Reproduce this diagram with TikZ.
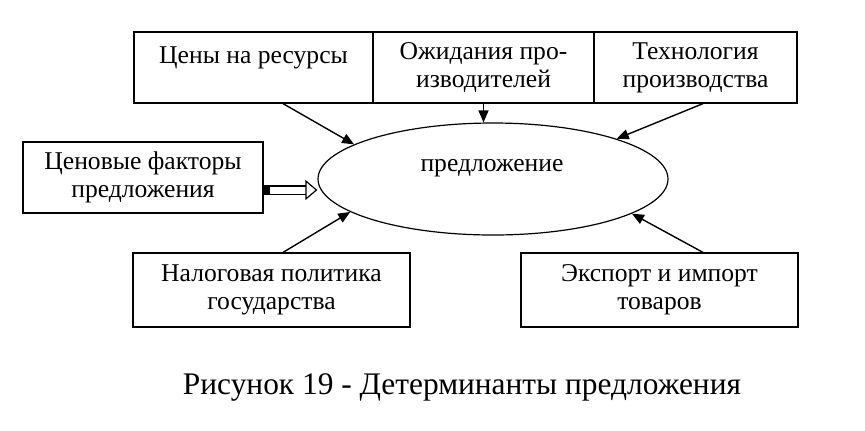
\documentclass[tikz,border=0pt]{standalone}
\usepackage{fontspec}
\setmainfont{Liberation Serif}
\usetikzlibrary{positioning}
\usetikzlibrary{arrows.meta}
\usetikzlibrary{shapes.geometric}

\begin{document}
\begin{tikzpicture}[x = 0.5pt, y = -0.5pt]
\tikzstyle{boxStyle} = [draw, line width = 0.6pt, align = center, inner sep = 2pt, font = \fontsize{12.8}{14}\selectfont]
\tikzstyle{EdgeStyle} = [line width = 0.7pt, -{Triangle[length = 6pt, width = 5pt]}]
\tikzstyle{hollowStyle} = [double, double distance = 3.5pt, line width = 0.6pt, {Rectangle[length = 3pt, width = 5pt]}-{Triangle[open, length = 6pt, width = 10pt]}]
\useasboundingbox (0,0) rectangle (865,430);
\node[boxStyle, minimum width = 119.5pt, minimum height = 35.5pt, text depth = 12.5pt] (res) at (253.5,67.5) {Цены на ресурсы};
\node[boxStyle, minimum width = 110.5pt, minimum height = 35.5pt] (exp) at (483.5,67.5) {Ожидания про-\\изводителей};
\node[boxStyle, minimum width = 101.5pt, minimum height = 35.5pt] (tech) at (695.5,67.5) {Технология\\производства};
\node[boxStyle, minimum width = 120pt, minimum height = 35.5pt] (price) at (143,177.5) {Ценовые факторы\\предложения};
\node[boxStyle, minimum width = 138.5pt, minimum height = 37pt] (tax) at (271.5,290) {Налоговая политика\\государства};
\node[boxStyle, minimum width = 138.5pt, minimum height = 37pt] (trade) at (659.5,290) {Экспорт и импорт\\товаров};
\node[draw, ellipse, line width = 0.6pt, minimum width = 175pt, minimum height = 56pt] (sup) at (493,179) {};
\node[font = \fontsize{12.8}{14}\selectfont] (suptext) at (492,168) {предложение};
\node[font = \fontsize{15.7}{18}\selectfont] (cap) at (462,387) {Рисунок 19 - Детерминанты предложения};
\draw[EdgeStyle] ([xshift = 14.75pt]res.south) -- (sup.166);
\draw[EdgeStyle] (exp.south) -- (exp.south |- sup.north);
\draw[EdgeStyle] ([xshift = 3.75pt]tech.south) -- (sup.18);
\draw[EdgeStyle] ([xshift = 5.75pt]tax.north) -- (sup.193);
\draw[EdgeStyle] ([xshift = 21.75pt]trade.north) -- (sup.346);
\draw[hollowStyle] ([yshift = -6.25pt]price.east) -- ([yshift = -6.25pt]price.east -| sup.west);
\end{tikzpicture}
\end{document}
